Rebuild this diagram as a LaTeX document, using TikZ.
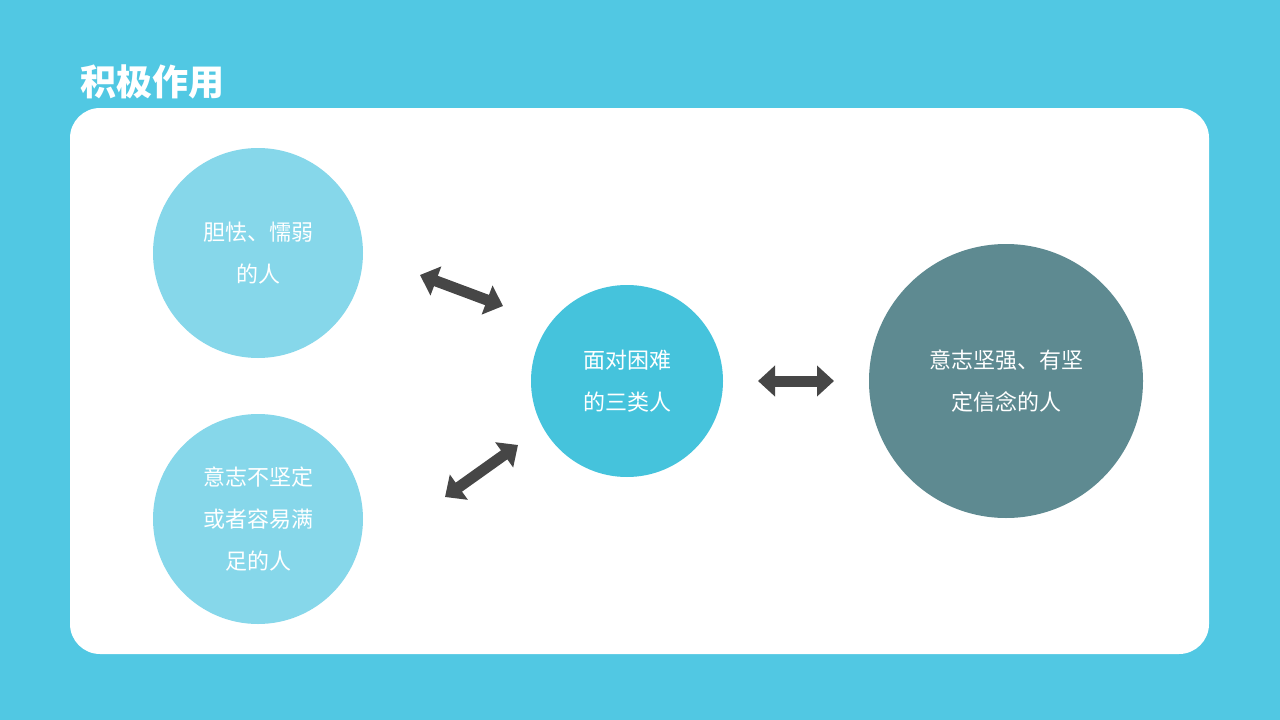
\documentclass[tikz,border=0pt]{standalone}
\usepackage{fontspec}
\setmainfont{Noto Sans CJK SC}
\usetikzlibrary{arrows.meta}
\definecolor{bg}{HTML}{51C8E3}
\definecolor{light}{HTML}{86D7EA}
\definecolor{mid}{HTML}{45C3DC}
\definecolor{dark}{HTML}{5E8A91}
\definecolor{arr}{HTML}{464646}
\tikzset{
 circ/.style={circle,inner sep=0pt,text=white,align=center,font=\fontsize{22pt}{42pt}\selectfont},
 dbl/.style={arr,line width=11pt,{Triangle[width=30pt,length=17pt]}-{Triangle[width=30pt,length=17pt]}}
}
\begin{document}
\begin{tikzpicture}[x=1pt,y=-1pt]
\fill[bg] (0,0) rectangle (1280,720);
\useasboundingbox (0,0) rectangle (1280,720);
\fill[white,rounded corners=30pt] (70,108) rectangle (1209,654);
\node[anchor=west,text=white,font=\fontsize{36pt}{40pt}\selectfont\bfseries] (title) at (77,82) {积极作用};
\node[circ,fill=light,minimum size=210pt] (a) at (258,253) {胆怯、懦弱\\的人};
\node[circ,fill=light,minimum size=210pt] (b) at (258,519) {意志不坚定\\或者容易满\\足的人};
\node[circ,fill=mid,minimum size=192pt] (c) at (627,381) {面对困难\\的三类人};
\node[circ,fill=dark,minimum size=274pt] (d) at (1006,381) {意志坚强、有坚\\定信念的人};
\coordinate (a1) at (420,275); \coordinate (a2) at (503,306);
\coordinate (b1) at (445,497); \coordinate (b2) at (518,445);
\coordinate (c1) at (758,381); \coordinate (c2) at (834,381);
\draw[dbl] (a1) -- (a2);
\draw[dbl] (b1) -- (b2);
\draw[dbl] (c1) -- (c2);
\end{tikzpicture}
\end{document}
